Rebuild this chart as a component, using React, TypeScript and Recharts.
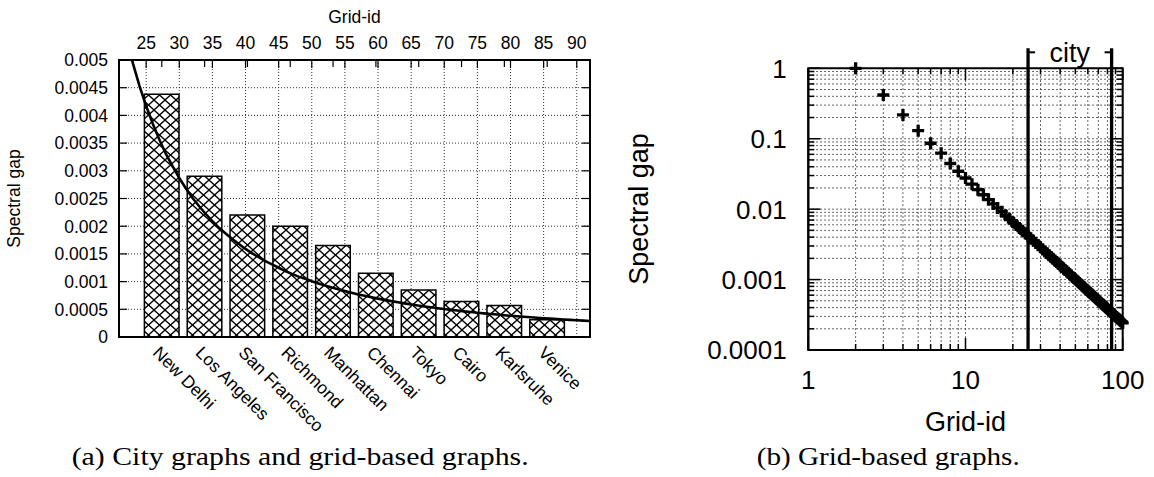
import React from 'react';
import {
  ComposedChart,
  ScatterChart,
  Bar,
  Line,
  Scatter,
  XAxis,
  YAxis,
  CartesianGrid,
  ReferenceArea,
  ReferenceLine,
} from 'recharts';

// ---- City graphs (bars, left panel) ----
const cityNames = [
  'New Delhi',
  'Los Angeles',
  'San Francisco',
  'Richmond',
  'Manhattan',
  'Chennai',
  'Tokyo',
  'Cairo',
  'Karlsruhe',
  'Venice',
];
const citySpectralGap = [
  0.00438, 0.0029, 0.0022, 0.002, 0.00165, 0.00115, 0.00085, 0.00064, 0.00057, 0.00031,
];

// ---- Grid-based graphs: grid id 2..100 and spectral gap ----
const gridIds = Array.from({ length: 99 }, (_, i) => i + 2);
const gridSpectralGap = [
  1.0, 0.418, 0.218, 0.13, 0.0863, 0.0623, 0.0445, 0.0345, 0.0277, // 2-10
  0.0226, 0.0189, 0.016, 0.01368, 0.01188, 0.0104, 0.00919, 0.00818, 0.00732, 0.00658, // 11-20
  0.00596, 0.00542, 0.00494, 0.00453, 0.00417, 0.00385, 0.00356, 0.0033, 0.00308, 0.00287, // 21-30
  0.00268, 0.00251, 0.00236, 0.00222, 0.00209, 0.00197, 0.00187, 0.00177, 0.00168, 0.00159, // 31-40
  0.00151, 0.00144, 0.00137, 0.00131, 0.00125, 0.00119, 0.00114, 0.00109, 0.00105, 0.001007, // 41-50
  0.000967, 0.000929, 0.000893, 0.00086, 0.000828, 0.000798, 0.000769, 0.000743, 0.000717, 0.000693, // 51-60
  0.00067, 0.000648, 0.000627, 0.000607, 0.000588, 0.00057, 0.000552, 0.000536, 0.00052, 0.000505, // 61-70
  0.00049, 0.000477, 0.000463, 0.000451, 0.000438, 0.000427, 0.000415, 0.000405, 0.000394, 0.000384, // 71-80
  0.000374, 0.000365, 0.000356, 0.000347, 0.000339, 0.000331, 0.000323, 0.000316, 0.000309, 0.000302, // 81-90
  0.000295, 0.000288, 0.000282, 0.000276, 0.00027, 0.000264, 0.000259, 0.000253, 0.000248, 0.000243, // 91-100
];

// ---- Axis ticks ----
const gapTicks = [0, 0.0005, 0.001, 0.0015, 0.002, 0.0025, 0.003, 0.0035, 0.004, 0.0045, 0.005];
const gapTickLabels = ['0', '0.0005', '0.001', '0.0015', '0.002', '0.0025', '0.003', '0.0035', '0.004', '0.0045', '0.005'];
const gridIdTicks = [25, 30, 35, 40, 45, 50, 55, 60, 65, 70, 75, 80, 85, 90];
const gridIdDomain: [number, number] = [20.9, 92];
const curveRange = [21, 92];

const logGridTicks = [1, 2, 3, 4, 5, 6, 7, 8, 9, 10, 20, 30, 40, 50, 60, 70, 80, 90, 100];
const logGridLabels: Record<string, string> = { '1': '1', '10': '10', '100': '100' };
const logGapTicks = [
  0.0001, 0.0002, 0.0003, 0.0004, 0.0005, 0.0006, 0.0007, 0.0008, 0.0009,
  0.001, 0.002, 0.003, 0.004, 0.005, 0.006, 0.007, 0.008, 0.009,
  0.01, 0.02, 0.03, 0.04, 0.05, 0.06, 0.07, 0.08, 0.09,
  0.1, 0.2, 0.3, 0.4, 0.5, 0.6, 0.7, 0.8, 0.9, 1,
];
const logGapLabels: Record<string, string> = {
  '0.0001': '0.0001', '0.001': '0.001', '0.01': '0.01', '0.1': '0.1', '1': '1',
};
const cityGridRange = [25, 85];

const cityRows = cityNames.map((city, i) => ({ city, gap: citySpectralGap[i] }));
const gridRows = gridIds.map((n, i) => ({ n, gap: gridSpectralGap[i] }));
const curveRows = gridRows.filter((r) => r.n >= curveRange[0] && r.n <= curveRange[1]);

// ---- Layout ----
const SANS = '"Liberation Sans", Arial, Helvetica, sans-serif';
const SERIF = '"Liberation Serif", "Times New Roman", serif';
const LFS = 17.5; // left panel text size
const LP = { left: 119, top: 60, right: 590, bottom: 337 }; // left plot box
const RP = { left: 208.3, top: 68.3, right: 522.7, bottom: 350 }; // right plot box (local)

function LeftGapTick(p: any) {
  const { y, payload } = p;
  const i = gapTicks.indexOf(payload.value);
  const inner = i > 0 && i < gapTicks.length - 1;
  return (
    <g>
      <text x={LP.left - 11} y={y} dy="0.36em" textAnchor="end" fontSize={LFS} fill="#000" fontFamily={SANS}>
        {gapTickLabels[i]}
      </text>
      {inner && <line x1={LP.left} x2={LP.left + 8} y1={y} y2={y} stroke="#000" strokeWidth={1.2} />}
      {inner && <line x1={LP.right} x2={LP.right - 8} y1={y} y2={y} stroke="#000" strokeWidth={1.2} />}
    </g>
  );
}

function GridIdTick(p: any) {
  const { x, payload } = p;
  return (
    <g>
      <text x={x} y={LP.top - 11} textAnchor="middle" fontSize={LFS} fill="#000" fontFamily={SANS}>
        {payload.value}
      </text>
      <line x1={x} x2={x} y1={LP.top} y2={LP.top + 8} stroke="#000" strokeWidth={1.2} />
    </g>
  );
}

function CityTick(p: any) {
  const { x, payload } = p;
  const ax = x - 5.6;
  const ay = 349.3;
  return (
    <g>
      <text
        x={ax}
        y={ay}
        dy="0.36em"
        transform={`rotate(45 ${ax} ${ay})`}
        textAnchor="start"
        fontSize={LFS}
        fill="#000"
        fontFamily={SANS}
      >
        {payload.value}
      </text>
      <line x1={x} x2={x} y1={LP.top} y2={LP.top + 7} stroke="#000" strokeWidth={1.2} />
    </g>
  );
}

function LeftGapLabel() {
  return (
    <text transform="translate(13.3,198.5) rotate(-90)" textAnchor="middle" dy="0.36em" fontSize={LFS} fill="#000" fontFamily={SANS}>
      Spectral gap
    </text>
  );
}

function GridIdTitle() {
  return (
    <text x={(LP.left + LP.right) / 2} y={23} textAnchor="middle" fontSize={LFS} fill="#000" fontFamily={SANS}>
      Grid-id
    </text>
  );
}

function LogGridTick(p: any) {
  const { x, payload } = p;
  const label = logGridLabels[String(payload.value)];
  const len = label ? 12 : 6;
  return (
    <g>
      {label && (
        <text x={x} y={RP.bottom + 20} dy="0.72em" textAnchor="middle" fontSize={26} fill="#000" fontFamily={SANS}>
          {label}
        </text>
      )}
      <line x1={x} x2={x} y1={RP.bottom} y2={RP.bottom - len} stroke="#000" strokeWidth={1.5} />
      <line x1={x} x2={x} y1={RP.top} y2={RP.top + len} stroke="#000" strokeWidth={1.5} />
    </g>
  );
}

function LogGapTick(p: any) {
  const { y, payload } = p;
  const label = logGapLabels[String(payload.value)];
  const len = label ? 12 : 6;
  return (
    <g>
      {label && (
        <text x={RP.left - 21.6} y={y} dy="0.36em" textAnchor="end" fontSize={26} fill="#000" fontFamily={SANS}>
          {label}
        </text>
      )}
      <line x1={RP.left} x2={RP.left + len} y1={y} y2={y} stroke="#000" strokeWidth={1.5} />
      <line x1={RP.right} x2={RP.right - len} y1={y} y2={y} stroke="#000" strokeWidth={1.5} />
    </g>
  );
}

function RightGapLabel() {
  return (
    <text transform="translate(38,209) rotate(-90)" textAnchor="middle" dy="0.36em" fontSize={27} fill="#000" fontFamily={SANS}>
      Spectral gap
    </text>
  );
}

function RightGridTitle() {
  return (
    <text x={(RP.left + RP.right) / 2} y={430.7} textAnchor="middle" fontSize={27} fill="#000" fontFamily={SANS}>
      Grid-id
    </text>
  );
}

function PlusMark(p: any) {
  const { cx, cy } = p;
  if (cx == null || cy == null) return null;
  return (
    <path d={`M${cx - 6},${cy}H${cx + 6}M${cx},${cy - 6}V${cy + 6}`} stroke="#000" strokeWidth={3.3} fill="none" />
  );
}

const cityBoundary = (dir: number) => (p: any) => {
  const x = p.x1;
  const top = Math.min(p.y1, p.y2) - 20;
  const bottom = Math.max(p.y1, p.y2);
  return (
    <g>
      <line x1={x} x2={x} y1={top} y2={bottom} stroke="#000" strokeWidth={3.3} />
      <line x1={x} x2={x + dir * 7} y1={top + 4} y2={top + 4} stroke="#000" strokeWidth={2} />
    </g>
  );
};

export default function App() {
  return (
    <div style={{ position: 'absolute', left: 0, top: 0, width: 1154, height: 477, background: '#fff', fontFamily: SANS }}>
      <div style={{ position: 'absolute', left: 0, top: 0 }}>
        <ComposedChart width={600} height={440} data={cityRows} margin={{ top: 0, right: 10, bottom: 0, left: 0 }}>
          <defs>
            <pattern id="xhatch" patternUnits="userSpaceOnUse" width={11} height={10}>
              <rect width={11} height={10} fill="#fff" />
              <path d="M0,0L11,10M11,0L0,10" stroke="#000" strokeWidth={1.3} />
            </pattern>
          </defs>
          <CartesianGrid xAxisId="grid" stroke="#333" strokeWidth={1} strokeDasharray="1 2" />
          <XAxis
            xAxisId="cat"
            dataKey="city"
            type="category"
            orientation="bottom"
            height={103}
            padding={{ left: 21.4, right: 21.4 }}
            interval={0}
            tickLine={false}
            tick={(p: any) => <CityTick {...p} />}
            axisLine={{ stroke: '#000', strokeWidth: 2 }}
          />
          <XAxis
            xAxisId="grid"
            dataKey="n"
            type="number"
            orientation="top"
            height={60}
            domain={gridIdDomain}
            allowDataOverflow
            ticks={gridIdTicks}
            interval={0}
            tickLine={false}
            tick={(p: any) => <GridIdTick {...p} />}
            axisLine={{ stroke: '#000', strokeWidth: 2 }}
            label={<GridIdTitle />}
          />
          <YAxis
            type="number"
            width={119}
            domain={[0, 0.005]}
            allowDataOverflow
            ticks={gapTicks}
            interval={0}
            tickLine={false}
            tick={(p: any) => <LeftGapTick {...p} />}
            axisLine={{ stroke: '#000', strokeWidth: 2 }}
            label={<LeftGapLabel />}
          />
          <Bar
            xAxisId="cat"
            dataKey="gap"
            fill="url(#xhatch)"
            stroke="#000"
            strokeWidth={1.5}
            barSize={34.6}
            isAnimationActive={false}
          />
          <Line
            xAxisId="grid"
            data={curveRows}
            dataKey="gap"
            type="linear"
            stroke="#000"
            strokeWidth={2.6}
            dot={false}
            activeDot={false}
            isAnimationActive={false}
          />
          <ReferenceArea
            xAxisId="grid"
            x1={gridIdDomain[0]}
            x2={gridIdDomain[1]}
            y1={0}
            y2={0.005}
            fill="none"
            stroke="#000"
            strokeWidth={2}
            ifOverflow="visible"
          />
        </ComposedChart>
      </div>

      <div style={{ position: 'absolute', left: 600, top: 0 }}>
        <ScatterChart width={554} height={440} margin={{ top: RP.top, right: 554 - RP.right, bottom: 0, left: 0 }}>
          <CartesianGrid stroke="#333" strokeWidth={1} strokeDasharray="1.5 2.5" />
          <XAxis
            dataKey="n"
            type="number"
            scale="log"
            domain={[1, 100]}
            ticks={logGridTicks}
            interval={0}
            height={90}
            tickLine={false}
            tick={(p: any) => <LogGridTick {...p} />}
            axisLine={{ stroke: '#000', strokeWidth: 2 }}
            label={<RightGridTitle />}
          />
          <YAxis
            dataKey="gap"
            type="number"
            scale="log"
            domain={[0.0001, 1]}
            ticks={logGapTicks}
            interval={0}
            width={RP.left}
            tickLine={false}
            tick={(p: any) => <LogGapTick {...p} />}
            axisLine={{ stroke: '#000', strokeWidth: 2 }}
            label={<RightGapLabel />}
          />
          <ReferenceArea
            x1={1}
            x2={100}
            y1={0.0001}
            y2={1}
            fill="none"
            stroke="#000"
            strokeWidth={2}
            ifOverflow="visible"
          />
          <ReferenceArea
            x1={cityGridRange[0]}
            x2={cityGridRange[1]}
            fill="none"
            stroke="none"
            ifOverflow="visible"
            label={{ value: 'city', position: 'top', offset: 6.6, fontSize: 27, fill: '#000', fontFamily: SANS }}
          />
          <Scatter data={gridRows} shape={(p: any) => <PlusMark {...p} />} isAnimationActive={false} />
          <ReferenceLine x={cityGridRange[0]} ifOverflow="visible" shape={cityBoundary(1)} />
          <ReferenceLine x={cityGridRange[1]} ifOverflow="visible" shape={cityBoundary(-1)} />
        </ScatterChart>
      </div>

      <svg width={1154} height={477} style={{ position: 'absolute', left: 0, top: 0, pointerEvents: 'none' }}>
        <text x={71.7} y={465} fontSize={25} fill="#000" fontFamily={SERIF} textLength={457} lengthAdjust="spacingAndGlyphs">
          (a) City graphs and grid-based graphs.
        </text>
        <text x={756.7} y={465} fontSize={25} fill="#000" fontFamily={SERIF} textLength={263} lengthAdjust="spacingAndGlyphs">
          (b) Grid-based graphs.
        </text>
      </svg>
    </div>
  );
}
